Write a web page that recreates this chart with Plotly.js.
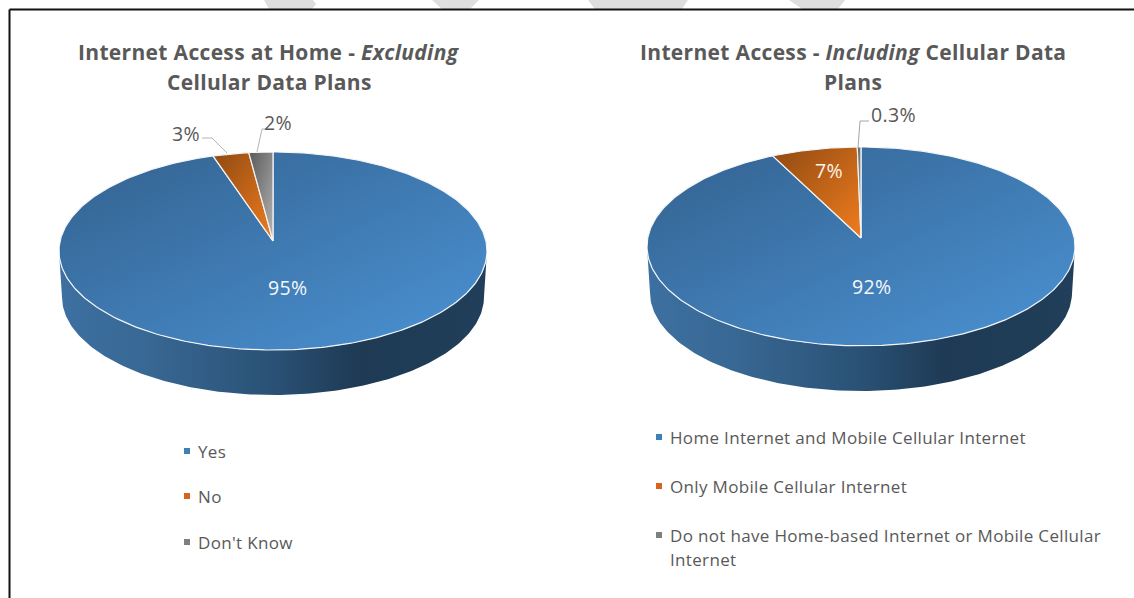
<!DOCTYPE html>
<html>
<head>
<meta charset="utf-8">
<script src="https://cdn.plot.ly/plotly-3.0.1.min.js"></script>
<style>html,body{margin:0;padding:0;background:#fff;overflow:hidden}
.annotation-text{letter-spacing:.33px}</style>
</head>
<body>
<div id="chart" style="width:1134px;height:598px"></div>
<script>
// ---- data ----
const leftCategories = ["Yes", "No", "Don't Know"];
const leftValues = [95, 3, 2];
const leftLabels = ["95%", "3%", "2%"];
const rightCategories = ["Home Internet and Mobile Cellular Internet", "Only Mobile Cellular Internet", "Do not have Home-based Internet or Mobile Cellular Internet"];
const rightValues = [92, 7, 0.3];
const rightLabels = ["92%", "7%", "0.3%"];
const sliceGradients = [
  [[0, "#33628f"], [1, "#4b92d4"]],
  [[0, "#8f4a12"], [1, "#f07c1e"]],
  [[0, "#595959"], [1, "#b4b4b4"]]
];
const wallScale = [[0, "#3d70a1"], [0.2, "#386894"], [0.5, "#2a5175"], [0.7, "#1e3a54"], [1, "#213f5a"]];
const swatchColors = ["#3f7fba", "#d8641c", "#7f7f7f"];
const FONT = "Open Sans, sans-serif";
const TEXT = "#595959";

// perspective tilt of each disc (apex lies above the rim's centre)
function rim(theta, c) {
  const u = Math.sin(theta), v = Math.cos(theta), d = 1 + c * v;
  return [u * Math.sqrt(1 - c * c) / d, (v + c) / d];
}
function pieTraces(values, c, xa, ya, names) {
  const total = values.reduce((a, b) => a + b, 0);
  const out = [];
  // side wall
  const wx = [], wy = [];
  for (let t = 90; t <= 270; t += 1) { const r = t * Math.PI / 180; wx.push(Math.sin(r)); wy.push(Math.cos(r)); }
  for (let t = 270; t >= 90; t -= 1) { const r = t * Math.PI / 180; wx.push(0.986 * Math.sin(r)); wy.push(0.99 * Math.cos(r) - 0.4646); }
  wx.push(wx[0]); wy.push(wy[0]);
  out.push({type: "scatter", mode: "lines", x: wx, y: wy, xaxis: xa, yaxis: ya, fill: "toself",
    fillgradient: {type: "horizontal", colorscale: wallScale}, line: {width: 0, color: "#2a5175"}, hoverinfo: "skip", showlegend: false});
  // top slices, clockwise from 12 o'clock
  let acc = 0;
  values.forEach((val, i) => {
    const a0 = acc / total * 2 * Math.PI, a1 = (acc + val) / total * 2 * Math.PI;
    acc += val;
    const xs = [0], ys = [c], n = Math.max(2, Math.ceil((a1 - a0) * 180 / Math.PI));
    for (let k = 0; k <= n; k++) { const p = rim(a0 + (a1 - a0) * k / n, c); xs.push(p[0]); ys.push(p[1]); }
    xs.push(0); ys.push(c);
    out.push({type: "scatter", mode: "lines", name: names[i], x: xs, y: ys, xaxis: xa, yaxis: ya, fill: "toself",
      fillgradient: {type: "horizontal", colorscale: sliceGradients[i]}, line: {width: 1.2, color: "#f2f5f8"}, hoverinfo: "name", showlegend: false});
  });
  return out;
}

const legendLeft = {x: 187, textX: 198, y: [451, 496, 542]};
const legendRight = {x: 659, textX: 670, y: [437, 486, 535]};

const traces = [
  ...pieTraces(leftValues, 0.101, "x", "y", leftCategories),
  ...pieTraces(rightValues, 0.085, "x2", "y2", rightCategories),
  // leader lines
  {type: "scatter", mode: "lines", x: [202, 212, 227], y: [138, 138, 153], xaxis: "x3", yaxis: "y3", line: {color: "#b5b5b5", width: 1}, hoverinfo: "skip", showlegend: false},
  {type: "scatter", mode: "lines", x: [265, 262, 257], y: [129, 129, 152], xaxis: "x3", yaxis: "y3", line: {color: "#b5b5b5", width: 1}, hoverinfo: "skip", showlegend: false},
  {type: "scatter", mode: "lines", x: [869, 860, 858], y: [121, 121, 148], xaxis: "x3", yaxis: "y3", line: {color: "#a6a6a6", width: 1}, hoverinfo: "skip", showlegend: false},
  // legend swatches
  {type: "scatter", mode: "markers", x: legendLeft.y.map(() => legendLeft.x), y: legendLeft.y, xaxis: "x3", yaxis: "y3",
    marker: {symbol: "square", size: 6, color: swatchColors}, hoverinfo: "skip", showlegend: false},
  {type: "scatter", mode: "markers", x: legendRight.y.map(() => legendRight.x), y: legendRight.y, xaxis: "x3", yaxis: "y3",
    marker: {symbol: "square", size: 6, color: swatchColors}, hoverinfo: "skip", showlegend: false}
];

function note(text, x, y, size, color, anchor) {
  return {text, x, y, xref: "x3", yref: "y3", showarrow: false, xanchor: anchor || "center", yanchor: "middle",
    font: {family: FONT, size, color}, borderpad: 0, borderwidth: 0};
}
const annotations = [
  note("<b>Internet Access at Home - <i>Excluding</i></b>", 269, 52, 21, TEXT),
  note("<b>Cellular Data Plans</b>", 269, 82, 21, TEXT),
  note("<b>Internet Access - <i>Including</i> Cellular Data</b>", 853, 52, 21, TEXT),
  note("<b>Plans</b>", 853, 82, 21, TEXT),
  note(leftLabels[0], 287, 287, 19.5, "#f4f7fb"),
  note(leftLabels[1], 186, 133, 19.5, TEXT),
  note(leftLabels[2], 278, 122, 19.5, TEXT),
  note(rightLabels[0], 871, 286, 19.5, "#f4f7fb"),
  note(rightLabels[1], 829, 170, 19.5, "#fbf3ec"),
  note(rightLabels[2], 893, 114, 19.5, TEXT),
  note(leftCategories[0], legendLeft.textX, legendLeft.y[0], 17, TEXT, "left"),
  note(leftCategories[1], legendLeft.textX, legendLeft.y[1], 17, TEXT, "left"),
  note(leftCategories[2], legendLeft.textX, legendLeft.y[2], 17, TEXT, "left"),
  note(rightCategories[0], legendRight.textX, legendRight.y[0], 17, TEXT, "left"),
  note(rightCategories[1], legendRight.textX, legendRight.y[1], 17, TEXT, "left"),
  note("Do not have Home-based Internet or Mobile Cellular", legendRight.textX, legendRight.y[2], 17, TEXT, "left"),
  note("Internet", legendRight.textX, 559, 17, TEXT, "left")
];

function band(points) {
  return {type: "path", xref: "x3", yref: "y3", layer: "below", fillcolor: "#dedede", line: {width: 0},
    path: "M" + points.map(p => p.join(",")).join("L") + "Z"};
}
const shapes = [
  band([[264, 0], [269, 9], [312, 9], [316, 4], [313, 0]]),
  band([[432, 0], [442, 9], [470, 9], [479, 0]]),
  band([[588, 0], [595, 9], [682, 9], [688, 0]]),
  band([[789, 0], [802, 9], [838, 9], [845, 0]]),
  {type: "line", xref: "x3", yref: "y3", x0: 9.5, x1: 1134, y0: 9.5, y1: 9.5, line: {color: "#111", width: 2}},
  {type: "line", xref: "x3", yref: "y3", x0: 9.5, x1: 9.5, y0: 9.5, y1: 598, line: {color: "#111", width: 2}}
];

const W = 1134, H = 598;
const hidden = {visible: false, fixedrange: true};
const layout = {
  width: W, height: H, margin: {l: 0, r: 0, t: 0, b: 0}, paper_bgcolor: "#fff", plot_bgcolor: "rgba(0,0,0,0)",
  showlegend: false, hovermode: "closest",
  xaxis: {...hidden, domain: [59 / W, 487 / W], range: [-1, 1]},
  yaxis: {...hidden, domain: [1 - 395 / H, 1 - 152 / H], range: [-1.4546, 1]},
  xaxis2: {...hidden, domain: [647 / W, 1075 / W], range: [-1, 1]},
  yaxis2: {...hidden, domain: [1 - 391 / H, 1 - 147 / H], range: [-1.4546, 1]},
  xaxis3: {...hidden, domain: [0, 1], range: [0, W]},
  yaxis3: {...hidden, domain: [0, 1], range: [H, 0]},
  annotations, shapes
};

Plotly.newPlot("chart", traces, layout, {displayModeBar: false}).then(gd => {
  // slice gradients run diagonally: dark at the upper left, light at the lower right
  gd.querySelectorAll("linearGradient").forEach(g => {
    if (g.querySelectorAll("stop").length === 2) {
      g.setAttribute("gradientUnits", "objectBoundingBox");
      g.setAttribute("x1", "1"); g.setAttribute("y1", "1");
      g.setAttribute("x2", "0"); g.setAttribute("y2", "0");
    }
  });
});
</script>
</body>
</html>
